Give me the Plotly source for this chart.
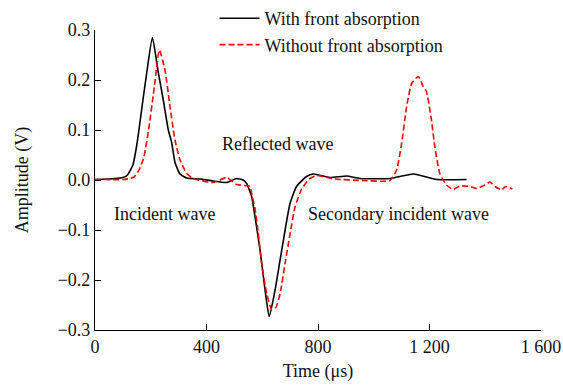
import plotly.graph_objects as go

# With front absorption (black, solid)
t_with = [0, 72, 100, 115, 136, 150, 160, 172, 187, 206, 227, 245, 263, 275, 287, 305, 329, 377,
          423, 472, 508, 531, 544, 562, 574, 592, 610, 625, 646, 664, 682, 700, 723, 759, 783,
          843, 903, 950, 1058, 1142, 1226, 1333]
a_with = [0.001, 0.003, 0.005, 0.009, 0.03, 0.07, 0.11, 0.16, 0.22, 0.285, 0.215, 0.16, 0.10, 0.075,
          0.035, 0.012, 0.004, 0.002, -0.002, -0.005, 0.003, 0.0, -0.007, -0.033, -0.073, -0.14,
          -0.22, -0.273, -0.22, -0.16, -0.10, -0.046, -0.013, 0.007, 0.012, 0.005, 0.008, 0.003,
          0.003, 0.012, 0.001, 0.001]

# Without front absorption (red, dashed)
t_without = [0, 100, 126, 140, 158, 176, 194, 213, 231, 251, 269, 287, 305, 329, 352, 423, 472,
             508, 556, 562, 574, 586, 598, 616, 634, 649, 664, 682, 700, 718, 742, 771, 795, 860,
             960, 1058, 1082, 1100, 1118, 1136, 1160, 1177, 1189, 1207, 1219, 1237, 1261, 1285,
             1309, 1345, 1369, 1399, 1417, 1435, 1459, 1473, 1497]
a_without = [0.001, 0.001, 0.003, 0.006, 0.02, 0.047, 0.107, 0.187, 0.26, 0.22, 0.147, 0.08, 0.04,
             0.013, 0.003, -0.005, 0.005, -0.009, -0.013, -0.027, -0.057, -0.107, -0.167, -0.227,
             -0.259, -0.255, -0.227, -0.166, -0.107, -0.053, -0.017, 0.003, 0.009, 0.002, -0.001,
             -0.001, 0.02, 0.073, 0.147, 0.193, 0.207, 0.187, 0.177, 0.12, 0.067, 0.013, -0.01,
             -0.019, -0.012, -0.013, -0.017, -0.01, -0.004, -0.013, -0.02, -0.013, -0.018]

x_ticks = [0, 400, 800, 1200, 1600]
x_tick_labels = ["0", "400", "800", "1 200", "1 600"]
y_ticks = [-0.3, -0.2, -0.1, 0.0, 0.1, 0.2, 0.3]
y_tick_labels = ["\u22120.3", "\u22120.2", "\u22120.1", "0.0", "0.1", "0.2", "0.3"]

FONT = "Liberation Serif, Times New Roman, serif"

fig = go.Figure()
fig.add_trace(go.Scatter(x=t_with, y=a_with, mode="lines", name="With front absorption",
                         line=dict(color="black", width=1.6, shape="spline", smoothing=0.5),
                         legendgroup="a"))
fig.add_trace(go.Scatter(x=t_without, y=a_without, mode="lines", name="Without front absorption",
                         line=dict(color="#ff0000", width=1.6, dash="6px,3px", shape="spline", smoothing=0.5),
                         legendgroup="b"))

annotations = [
    dict(x=656, y=0.072, text="Reflected wave"),
    dict(x=249, y=-0.068, text="Incident wave"),
    dict(x=1087, y=-0.068, text="Secondary incident wave"),
]
for a in annotations:
    fig.add_annotation(x=a["x"], y=a["y"], text=a["text"], showarrow=False,
                       font=dict(family=FONT, size=18, color="#111"), xref="x", yref="y")

fig.update_layout(
    width=563, height=390,
    margin=dict(l=95, r=22, t=30, b=60, autoexpand=False),
    paper_bgcolor="white", plot_bgcolor="white",
    font=dict(family=FONT, size=18, color="#111"),
    showlegend=True,
    legend=dict(x=0.268, y=1.10, xanchor="left", yanchor="top", bgcolor="rgba(0,0,0,0)",
                font=dict(family=FONT, size=18), tracegroupgap=0, itemwidth=40),
    xaxis=dict(range=[0, 1600], tickvals=x_ticks, ticktext=x_tick_labels, showgrid=False,
               zeroline=False, showline=True, linecolor="black", linewidth=1.2,
               ticks="inside", ticklen=6, tickcolor="black", ticklabeloverflow="allow",
               title=dict(text="Time (\u03bcs)", standoff=8, font=dict(family=FONT, size=18))),
    yaxis=dict(range=[-0.3, 0.3], tickvals=y_ticks, ticktext=y_tick_labels, showgrid=False,
               zeroline=False, showline=True, linecolor="black", linewidth=1.2,
               ticks="inside", ticklen=6, tickcolor="black",
               title=dict(text="Amplitude (V)", standoff=24, font=dict(family=FONT, size=18))),
)

fig.write_html("out.html", config={"displayModeBar": False},
               post_script="document.body.style.margin='0';document.body.style.overflow='hidden';")
